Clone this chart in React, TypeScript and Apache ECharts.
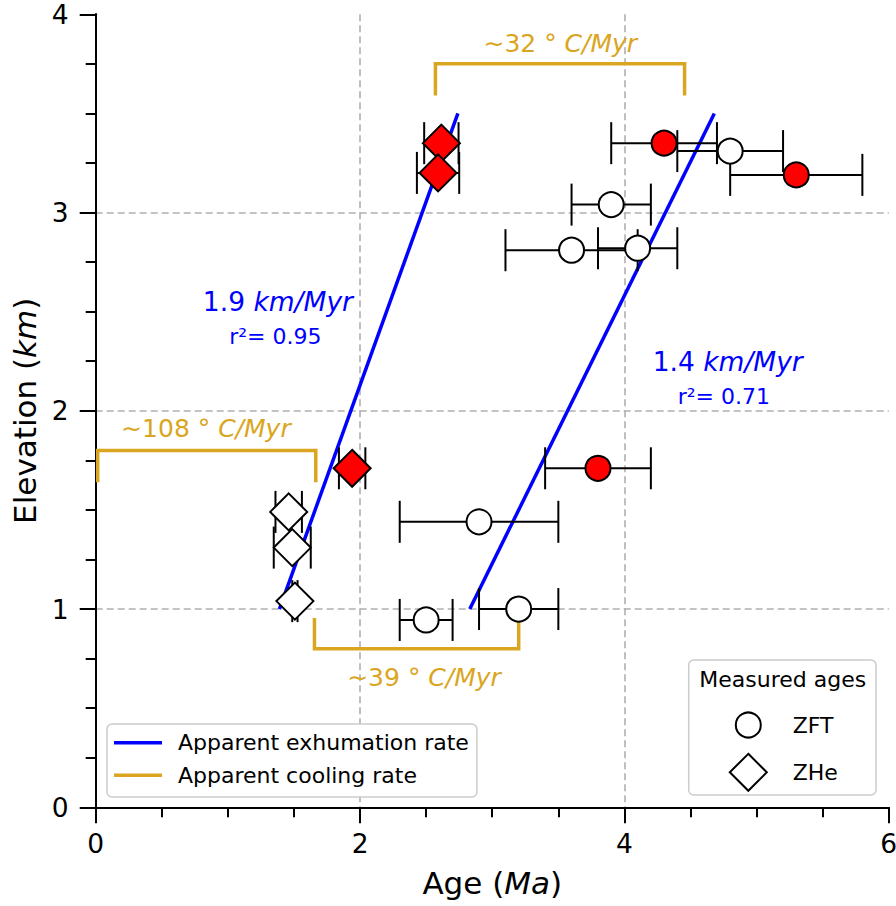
import React, { useEffect, useRef } from 'react';
import * as echarts from 'echarts';

const FONT = 'DejaVu Sans';

// ZFT (zircon fission track) ages
const zftAge = [4.3, 4.8, 5.3, 3.9, 3.6, 4.1, 3.8, 2.9, 3.2, 2.5];
const zftElev = [3.35, 3.31, 3.19, 3.04, 2.81, 2.82, 1.71, 1.44, 1.0, 0.945];
const zftErr = [0.4, 0.4, 0.5, 0.3, 0.5, 0.3, 0.4, 0.6, 0.3, 0.2];
const zftRed = [true, false, true, false, false, false, true, false, false, false];

// ZHe (zircon (U-Th)/He) ages
const zheAge = [2.615, 2.59, 1.94, 1.46, 1.487, 1.507];
const zheElev = [3.35, 3.2, 1.71, 1.49, 1.31, 1.04];
const zheErr = [0.13, 0.16, 0.1, 0.1, 0.14, 0.02];
const zheRed = [true, true, true, false, false, false];

// apparent exhumation rate regressions
const exhumationLine1 = [[1.39, 1.0], [2.74, 3.5]];
const exhumationLine2 = [[2.83, 1.0], [4.68, 3.5]];

// apparent cooling rate brackets
const coolingBracket32 = [[2.57, 3.59], [2.57, 3.75], [4.455, 3.75], [4.455, 3.59]];
const coolingBracket108 = [[0.015, 1.64], [0.015, 1.8], [1.665, 1.8], [1.665, 1.64]];
const coolingBracket39 = [[1.655, 0.955], [1.655, 0.8], [3.2, 0.8], [3.2, 0.955]];

const legendNames = ['Apparent exhumation rate', 'Apparent cooling rate'];

const BLUE = '#0000ff';
const GOLD = '#daa520';

function pts(xs: number[], ys: number[], flags: boolean[], want: boolean) {
  return xs.map((x, i) => [x, ys[i]]).filter((_, i) => flags[i] === want);
}
function errData(xs: number[], ys: number[], es: number[]) {
  return xs.map((x, i) => [x, ys[i], x - es[i], x + es[i]]);
}

const errRender = (params: any, api: any) => {
  const y = api.value(1);
  const p1 = api.coord([api.value(2), y]);
  const p2 = api.coord([api.value(3), y]);
  const h = 21;
  const style = { stroke: '#000', lineWidth: 2, fill: 'none' };
  return {
    type: 'group',
    children: [
      { type: 'line', shape: { x1: p1[0], y1: p1[1], x2: p2[0], y2: p2[1] }, style },
      { type: 'line', shape: { x1: p1[0], y1: p1[1] - h, x2: p1[0], y2: p1[1] + h }, style },
      { type: 'line', shape: { x1: p2[0], y1: p2[1] - h, x2: p2[0], y2: p2[1] + h }, style },
    ],
  };
};

const rateRich = (color: string, size: number) => ({
  n: { fontFamily: FONT, fontSize: size, fill: color, color },
  i: { fontFamily: FONT, fontSize: size, fill: color, color, fontStyle: 'italic' },
});

function annText(x: number, y: number, text: string, color: string, size: number) {
  return {
    type: 'text',
    x,
    y,
    z: 50,
    style: {
      text,
      rich: rateRich(color, size),
      fontFamily: FONT,
      fontSize: size,
      fill: color,
      align: 'center',
      verticalAlign: 'middle',
    },
  };
}

export default function App() {
  const ref = useRef<HTMLDivElement>(null);
  useEffect(() => {
    if (!ref.current) return;
    const chart = echarts.init(ref.current, null, { renderer: 'svg' });
    const axisLabel = { fontFamily: FONT, fontSize: 26.5, color: '#000' };
    const splitLine = {
      show: true,
      showMinLine: false,
      showMaxLine: false,
      lineStyle: { color: '#b0b0b0', width: 1.6, type: [7, 4] },
    };
    const axisLine = { show: true, lineStyle: { color: '#000', width: 2 } };
    const axisTick = { show: true, inside: false, length: 16, lineStyle: { color: '#000', width: 2 } };
    const minorTick = { show: true, splitNumber: 4, length: 10, lineStyle: { color: '#000', width: 2 } };
    const nameRich = {
      n: { fontFamily: FONT, fontSize: 31, color: '#000' },
      i: { fontFamily: FONT, fontSize: 31, color: '#000', fontStyle: 'italic' },
    };

    const option: any = {
      animation: false,
      backgroundColor: '#fff',
      grid: {
        left: 95.7,
        right: 7.2,
        top: 14.3,
        bottom: 98.7,
        containLabel: false,
        outerBoundsMode: 'none',
      },
      xAxis: [
        {
          type: 'value',
          min: 0,
          max: 6,
          interval: 2,
          name: '{n|Age (}{i|Ma}{n|)}',
          nameLocation: 'middle',
          nameGap: 60,
          nameTextStyle: { fontFamily: FONT, fontSize: 31, color: '#000', rich: nameRich },
          axisLine,
          axisTick,
          minorTick,
          axisLabel: { ...axisLabel, margin: 23 },
          splitLine,
        },
        {
          type: 'value',
          position: 'top',
          min: 0,
          max: 6,
          axisLine,
          axisTick: { show: false },
          axisLabel: { show: false },
          splitLine: { show: false },
        },
      ],
      yAxis: [
        {
          type: 'value',
          min: 0,
          max: 4,
          interval: 1,
          name: '{n|Elevation (}{i|km}{n|)}',
          nameLocation: 'middle',
          nameGap: 55,
          nameTextStyle: { fontFamily: FONT, fontSize: 31, color: '#000', rich: nameRich },
          axisLine,
          axisTick,
          minorTick,
          axisLabel: { ...axisLabel, margin: 27 },
          splitLine,
        },
        {
          type: 'value',
          position: 'right',
          min: 0,
          max: 4,
          axisLine,
          axisTick: { show: false },
          axisLabel: { show: false },
          splitLine: { show: false },
        },
      ],
      legend: {
        data: legendNames.map((name) => ({ name, icon: 'rect' })),
        orient: 'vertical',
        left: 107,
        top: 724,
        itemWidth: 48,
        itemHeight: 3.5,
        itemGap: 10.6,
        padding: [7.7, 8, 10.7, 7],
        backgroundColor: '#fff',
        borderColor: '#cccccc',
        borderWidth: 1.5,
        borderRadius: 5,
        selectedMode: false,
        textStyle: {
          fontFamily: FONT,
          fontSize: 22,
          lineHeight: 22,
          color: '#000',
          padding: [0, 0, 0, 11],
        },
      },
      series: [
        ...[coolingBracket32, coolingBracket108, coolingBracket39].map((d) => ({
          type: 'line',
          name: legendNames[1],
          data: d,
          symbol: 'none',
          lineStyle: { color: GOLD, width: 3.5, cap: 'butt', join: 'miter' },
          itemStyle: { color: GOLD },
          z: 2,
          silent: true,
        })),
        ...[exhumationLine1, exhumationLine2].map((d) => ({
          type: 'line',
          name: legendNames[0],
          data: d,
          symbol: 'none',
          lineStyle: { color: BLUE, width: 3.5 },
          itemStyle: { color: BLUE },
          z: 2,
          silent: true,
        })),
        {
          type: 'custom',
          name: 'ZFT error',
          renderItem: errRender,
          data: errData(zftAge, zftElev, zftErr),
          encode: { x: [0, 2, 3], y: 1 },
          z: 3,
          silent: true,
        },
        {
          type: 'custom',
          name: 'ZHe error',
          renderItem: errRender,
          data: errData(zheAge, zheElev, zheErr),
          encode: { x: [0, 2, 3], y: 1 },
          z: 3,
          silent: true,
        },
        {
          type: 'scatter',
          name: 'ZFT',
          data: pts(zftAge, zftElev, zftRed, false),
          symbol: 'circle',
          symbolSize: 25,
          itemStyle: { color: '#ffffff', borderColor: '#000', borderWidth: 2, opacity: 1 },
          z: 4,
        },
        {
          type: 'scatter',
          name: 'ZFT (red)',
          data: pts(zftAge, zftElev, zftRed, true),
          symbol: 'circle',
          symbolSize: 25,
          itemStyle: { color: '#ff0000', borderColor: '#000', borderWidth: 2, opacity: 1 },
          z: 4,
        },
        {
          type: 'scatter',
          name: 'ZHe',
          data: pts(zheAge, zheElev, zheRed, false),
          symbol: 'diamond',
          symbolSize: 37,
          itemStyle: { color: '#ffffff', borderColor: '#000', borderWidth: 2, opacity: 1 },
          z: 4,
        },
        {
          type: 'scatter',
          name: 'ZHe (red)',
          data: pts(zheAge, zheElev, zheRed, true),
          symbol: 'diamond',
          symbolSize: 37,
          itemStyle: { color: '#ff0000', borderColor: '#000', borderWidth: 2, opacity: 1 },
          z: 4,
        },
      ],
      graphic: [
        annText(560.3, 43, '{n|∼32 ° }{i|C/Myr}', GOLD, 25),
        annText(205.9, 428, '{n|∼108 ° }{i|C/Myr}', GOLD, 25),
        annText(424, 677, '{n|∼39 ° }{i|C/Myr}', GOLD, 25),
        annText(277.9, 301.7, '{n|1.9 }{i|km/Myr}', BLUE, 26.5),
        annText(275.4, 336.7, '{n|r²= 0.95}', BLUE, 22),
        annText(727.7, 361.7, '{n|1.4 }{i|km/Myr}', BLUE, 26.5),
        annText(723.8, 396.7, '{n|r²= 0.71}', BLUE, 22),
        // "Measured ages" legend
        {
          type: 'rect',
          z: 60,
          shape: { x: 688.7, y: 660, width: 187.3, height: 135, r: 5 },
          style: { fill: '#ffffff', stroke: '#cccccc', lineWidth: 1.5 },
        },
        {
          type: 'text',
          z: 61,
          x: 782.7,
          y: 679,
          style: {
            text: 'Measured ages',
            fontFamily: FONT,
            fontSize: 22,
            fill: '#000',
            align: 'center',
            verticalAlign: 'middle',
          },
        },
        {
          type: 'circle',
          z: 61,
          shape: { cx: 748.3, cy: 725, r: 12.5 },
          style: { fill: '#ffffff', stroke: '#000', lineWidth: 2 },
        },
        {
          type: 'polygon',
          z: 61,
          shape: {
            points: [
              [748.3, 753.8],
              [766.8, 772.3],
              [748.3, 790.8],
              [729.8, 772.3],
            ],
          },
          style: { fill: '#ffffff', stroke: '#000', lineWidth: 2 },
        },
        {
          type: 'text',
          z: 61,
          x: 792.7,
          y: 725,
          style: { text: 'ZFT', fontFamily: FONT, fontSize: 22, fill: '#000', align: 'left', verticalAlign: 'middle' },
        },
        {
          type: 'text',
          z: 61,
          x: 792.7,
          y: 772.3,
          style: { text: 'ZHe', fontFamily: FONT, fontSize: 22, fill: '#000', align: 'left', verticalAlign: 'middle' },
        },
      ],
    };
    chart.setOption(option);
    return () => chart.dispose();
  }, []);
  return (
    <div
      ref={ref}
      style={{ position: 'absolute', left: 0, top: 0, width: 896, height: 906 }}
    />
  );
}
